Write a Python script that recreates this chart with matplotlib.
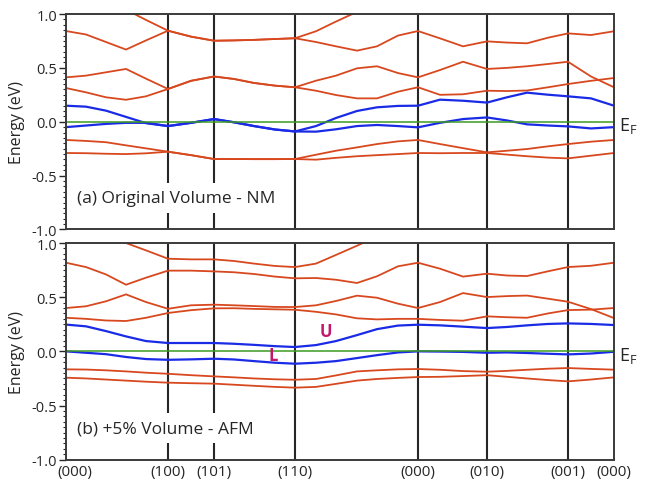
import matplotlib

matplotlib.use("Agg")

import matplotlib.pyplot as plt
import numpy as np

nan = np.nan

# k-path sample positions (arbitrary path length units) and high-symmetry points
K = [0.00, 0.20, 0.40, 0.60, 0.80, 1.02, 1.25, 1.48, 1.68, 1.88, 2.09, 2.29, 2.50, 2.70,
     2.91, 3.11, 3.32, 3.52, 3.74, 3.97, 4.21, 4.41, 4.61, 4.82, 5.02, 5.25, 5.48]
K_TICKS = [0.00, 1.02, 1.48, 2.29, 3.52, 4.21, 5.02, 5.48]
K_LABELS = ["(000)", "(100)", "(101)", "(110)", "(000)", "(010)", "(001)", "(000)"]

# (a) original volume, NM
a_red1 = [0.842, 0.81, 0.74, 0.67, 0.755, 0.845, 0.79, 0.752, 0.755, 0.76, 0.768, 0.775, 0.74, 0.70,
          0.66, 0.70, 0.80, 0.842, 0.774, 0.70, 0.746, 0.735, 0.728, 0.78, 0.82, 0.805, 0.84]
a_red2 = [nan, nan, nan, 1.04, 0.945, 0.845, 0.79, 0.752, 0.755, 0.76, 0.768, 0.775, 0.84, 0.93,
          1.02, nan, nan, nan, nan, nan, nan, nan, nan, nan, nan, nan, nan]
a_red3 = [0.412, 0.428, 0.459, 0.49, 0.40, 0.304, 0.38, 0.42, 0.397, 0.36, 0.335, 0.32, 0.381, 0.428,
          0.496, 0.515, 0.452, 0.412, 0.48, 0.557, 0.49, 0.50, 0.515, 0.536, 0.557, 0.42, 0.32]
a_red4 = [0.313, 0.273, 0.227, 0.204, 0.236, 0.304, 0.38, 0.42, 0.397, 0.36, 0.335, 0.32, 0.288, 0.248,
          0.217, 0.217, 0.279, 0.32, 0.25, 0.255, 0.288, 0.285, 0.29, 0.32, 0.35, 0.38, 0.406]
a_blue1 = [0.149, 0.14, 0.103, 0.045, -0.013, -0.04, -0.01, 0.025, -0.005, -0.04, -0.072, -0.09, -0.04, 0.035,
           0.10, 0.134, 0.147, 0.149, 0.205, 0.195, 0.178, 0.227, 0.27, 0.251, 0.236, 0.217, 0.149]
a_blue2 = [-0.05, -0.035, -0.02, -0.01, -0.01, -0.04, -0.01, 0.025, -0.005, -0.04, -0.072, -0.09, -0.092, -0.07,
           -0.04, -0.03, -0.04, -0.052, -0.01, 0.025, 0.04, 0.012, -0.024, -0.035, -0.043, -0.062, -0.05]
a_red5 = [-0.169, -0.178, -0.19, -0.219, -0.247, -0.278, -0.31, -0.346, -0.346, -0.347, -0.347, -0.346, -0.306, -0.269,
          -0.238, -0.207, -0.182, -0.169, -0.207, -0.245, -0.284, -0.269, -0.253, -0.228, -0.207, -0.185, -0.169]
a_red6 = [-0.29, -0.292, -0.297, -0.30, -0.293, -0.278, -0.31, -0.346, -0.346, -0.347, -0.347, -0.346, -0.352, -0.335,
          -0.32, -0.31, -0.30, -0.29, -0.292, -0.29, -0.29, -0.305, -0.32, -0.333, -0.34, -0.315, -0.29]

# (b) +5% volume, AFM
b_red1 = [0.818, 0.778, 0.71, 0.615, 0.68, 0.745, 0.745, 0.738, 0.73, 0.714, 0.69, 0.674, 0.677, 0.661,
          0.631, 0.693, 0.785, 0.818, 0.763, 0.69, 0.717, 0.70, 0.695, 0.739, 0.778, 0.79, 0.818]
b_red2 = [nan, nan, 1.07, 1.0, 0.932, 0.855, 0.849, 0.849, 0.834, 0.81, 0.788, 0.778, 0.81, 0.89,
          0.975, 1.06, nan, nan, nan, nan, nan, nan, nan, nan, nan, nan, nan]
b_red3 = [0.40, 0.416, 0.462, 0.526, 0.455, 0.393, 0.425, 0.431, 0.425, 0.418, 0.41, 0.409, 0.425, 0.465,
          0.514, 0.495, 0.44, 0.40, 0.455, 0.538, 0.501, 0.51, 0.515, 0.486, 0.458, 0.39, 0.307]
b_red4 = [0.31, 0.30, 0.285, 0.28, 0.31, 0.354, 0.38, 0.397, 0.398, 0.392, 0.388, 0.384, 0.365, 0.341,
          0.305, 0.295, 0.30, 0.30, 0.29, 0.283, 0.323, 0.315, 0.31, 0.35, 0.381, 0.385, 0.40]
b_blue_u = [0.247, 0.231, 0.187, 0.138, 0.095, 0.077, 0.077, 0.077, 0.07, 0.06, 0.048, 0.04, 0.058, 0.095,
            0.15, 0.205, 0.238, 0.246, 0.24, 0.228, 0.215, 0.225, 0.24, 0.253, 0.258, 0.253, 0.243]
b_blue_l = [0.0, -0.013, -0.026, -0.052, -0.071, -0.078, -0.074, -0.068, -0.075, -0.09, -0.105, -0.114, -0.105, -0.09,
            -0.062, -0.035, -0.01, 0.0, -0.002, -0.005, -0.013, -0.01, -0.015, -0.022, -0.028, -0.02, -0.004]
b_red5 = [-0.166, -0.168, -0.175, -0.185, -0.197, -0.207, -0.22, -0.231, -0.24, -0.25, -0.258, -0.262, -0.255, -0.222,
          -0.185, -0.175, -0.166, -0.163, -0.17, -0.182, -0.188, -0.18, -0.17, -0.16, -0.154, -0.162, -0.169]
b_red6 = [-0.243, -0.25, -0.26, -0.27, -0.28, -0.289, -0.294, -0.298, -0.308, -0.318, -0.328, -0.335, -0.328, -0.30,
          -0.27, -0.255, -0.245, -0.237, -0.235, -0.228, -0.22, -0.235, -0.25, -0.265, -0.277, -0.26, -0.24]

RED = "#D8481F"
BLUE = "#1A2BE6"
GREEN = "#3C9A22"
INK = "#262626"
MARK = "#C4176A"

plt.rcParams["font.family"] = ["Open Sans", "DejaVu Sans"]
plt.rcParams["axes.unicode_minus"] = False


def draw_panel(ax, reds, blues, label, show_x):
    ax.set_xlim(K_TICKS[0], K_TICKS[-1])
    ax.set_ylim(-1.0, 1.0)
    for kx in K_TICKS[1:-1]:
        ax.axvline(kx, color=INK, linewidth=1.5, zorder=1)
    for band in reds:
        ax.plot(K, band, color=RED, linewidth=1.3, zorder=2)
    for band in blues:
        ax.plot(K, band, color=BLUE, linewidth=1.6, zorder=3)
    ax.axhline(0.0, color=GREEN, linewidth=1.1, zorder=4)

    ax.set_yticks([-1.0, -0.5, 0.0, 0.5, 1.0])
    ax.set_yticklabels(["-1.0", "-0.5", "0.0", "0.5", "1.0"])
    ax.set_yticks(np.arange(-1.0, 1.001, 0.05), minor=True)
    ax.tick_params(axis="y", which="major", direction="out", length=5, width=1.0, pad=1.5,
                   labelsize=10.5, color=INK, labelcolor=INK)
    ax.tick_params(axis="y", which="minor", direction="out", length=2.5, width=0.8, color=INK)
    ax.set_xticks(K_TICKS)
    if show_x:
        # first label is nudged right so it does not run past the figure edge
        ax.set_xticklabels([""] + K_LABELS[1:])
        ax.annotate(K_LABELS[0], xy=(K_TICKS[0], 0), xycoords=("data", "axes fraction"),
                    xytext=(6.5, -3.2), textcoords="offset points", ha="center", va="top",
                    fontsize=11, color=INK, annotation_clip=False)
    else:
        ax.set_xticklabels([])
    ax.tick_params(axis="x", length=0, pad=3, labelsize=11, labelcolor=INK)
    for sp in ax.spines.values():
        sp.set_color("#3a3a3a")
        sp.set_linewidth(1.4)
        sp.set_zorder(6)

    ax.set_ylabel("Energy (eV)", fontsize=11.5, color=INK)
    ax.yaxis.set_label_coords(-0.074, 0.5)

    ax.text(0.11, -0.71, label, ha="left", va="center", fontsize=12.5, color=INK, zorder=5,
            bbox=dict(boxstyle="square,pad=0.4", facecolor="white", edgecolor="none"))
    ax.text(K_TICKS[-1] + 0.05, -0.03, r"$\mathregular{E_F}$", ha="left", va="center",
            fontsize=13, color=INK, clip_on=False)


fig = plt.figure(figsize=(6.47, 4.81), dpi=100)
ax_a = fig.add_axes([0.102, 0.5208, 0.847, 0.448])
ax_b = fig.add_axes([0.102, 0.0422, 0.847, 0.4505])

draw_panel(ax_a, [a_red1, a_red2, a_red3, a_red4, a_red5, a_red6], [a_blue1, a_blue2],
           "(a) Original Volume - NM", False)
draw_panel(ax_b, [b_red1, b_red2, b_red3, b_red4, b_red5, b_red6], [b_blue_u, b_blue_l],
           "(b) +5% Volume - AFM", True)

ax_b.text(2.60, 0.19, "U", ha="center", va="center", fontsize=12, fontweight="bold", color=MARK, zorder=5)
ax_b.text(2.07, -0.03, "L", ha="center", va="center", fontsize=12, fontweight="bold", color=MARK, zorder=5)

fig.savefig("out.png", dpi=100, facecolor="white")
plt.close(fig)
